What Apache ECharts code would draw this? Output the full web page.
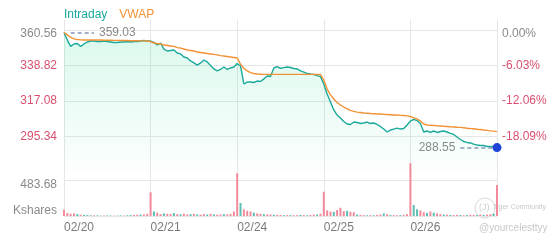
<!DOCTYPE html>
<html><head><meta charset="utf-8">
<script src="https://cdn.jsdelivr.net/npm/echarts@6/dist/echarts.min.js"></script>
<style>html,body{margin:0;padding:0;background:#fff}#c{width:560px;height:240px}</style>
</head><body><div id="c"></div>
<script>
// ---------- data ----------
const days = ['02/20', '02/21', '02/24', '02/25', '02/26'];
const prevClose = 360.56;
const openPrice = 359.03;
const lastPrice = 288.55;
const priceTickStep = 21.74;     // 360.56, 338.82, 317.08, 295.34
const volumeTickStep = 483.68;   // Kshares

const intradayDay1 = [359.03, 354.4, 350.5, 352.0, 352.3, 350.5, 352.0, 353.2, 353.8, 353.8, 353.5, 353.5, 353.8, 353.5, 353.2, 352.9, 352.9, 353.2, 353.2, 353.5, 353.2, 353.5, 353.5, 353.8, 354.1, 353.8];
const intradayDay2 = [353.8, 352.9, 351.4, 352.6, 348.9, 347.7, 348.0, 348.3, 346.5, 345.9, 344.0, 343.4, 341.6, 340.4, 339.1, 340.4, 342.2, 341.0, 338.8, 336.7, 335.5, 336.4, 337.9, 336.4, 337.3, 337.9];
const intradayDay3 = [340.0, 338.5, 327.5, 328.7, 328.7, 328.4, 329.3, 329.0, 330.6, 332.4, 332.1, 337.3, 338.1, 337.1, 337.5, 337.9, 337.6, 337.0, 336.7, 335.5, 334.8, 334.0, 333.6, 333.3, 332.6, 332.0];
const intradayDay4 = [327.5, 321.4, 316.5, 311.6, 308.5, 306.7, 304.5, 303.0, 302.7, 304.2, 303.9, 303.3, 303.6, 304.2, 303.3, 303.6, 302.7, 301.5, 299.9, 298.1, 299.3, 299.9, 300.5, 299.9, 300.2, 302.4];
const intradayDay5 = [304.8, 305.8, 305.1, 303.3, 298.1, 298.7, 297.8, 298.7, 297.8, 298.4, 298.7, 298.1, 297.3, 296.6, 295.0, 293.5, 292.3, 291.7, 291.4, 290.7, 290.1, 289.8, 289.8, 289.2, 289.2, 289.2, 288.55];

const vwapDay1 = [359.0, 357.6, 356.0, 355.1, 354.7, 354.5, 354.4, 354.4, 354.4, 354.4, 354.4, 354.4, 354.3, 354.3, 354.3, 354.2, 354.2, 354.1, 354.1, 354.1, 354.0, 354.0, 354.0, 353.9, 353.9, 353.8];
const vwapDay2 = [353.5, 352.6, 352.3, 352.0, 351.4, 351.1, 350.8, 350.5, 349.8, 349.5, 348.9, 348.3, 348.0, 347.7, 347.1, 346.8, 346.5, 346.2, 345.9, 345.6, 345.3, 344.9, 344.6, 344.3, 344.0, 343.7];
const vwapDay3 = [343.4, 339.7, 337.0, 335.5, 334.5, 333.9, 333.6, 333.5, 333.4, 333.4, 333.4, 333.4, 333.4, 333.4, 333.4, 333.4, 333.4, 333.4, 333.4, 333.4, 333.4, 333.4, 333.4, 333.4, 333.3, 333.3];
const vwapDay4 = [329.9, 324.4, 320.8, 318.3, 316.2, 314.6, 313.4, 312.2, 311.3, 310.7, 310.3, 310.0, 309.7, 309.6, 309.4, 309.3, 309.1, 309.1, 308.9, 308.8, 308.7, 308.5, 308.5, 308.3, 308.2, 308.0];
const vwapDay5 = [307.6, 306.7, 306.1, 304.8, 303.0, 302.4, 302.2, 302.1, 301.9, 301.8, 301.6, 301.5, 301.3, 301.2, 301.0, 300.9, 300.7, 300.4, 300.2, 300.1, 299.8, 299.6, 299.3, 299.1, 298.8, 298.6, 298.3];

const volumeDay1 = [85, 40, 30, 35, 25, 18, 15, 12, 10, 8, 8, 6, 6, 8, 6, 5, 6, 8, 7, 10, 12, 15, 18, 20, 22, 30];
const volumeDay2 = [318, 60, 45, 25, 35, 30, 28, 40, 25, 22, 30, 20, 25, 28, 22, 18, 25, 20, 30, 22, 18, 20, 25, 22, 28, 60];
const volumeDay3 = [574, 175, 90, 70, 60, 45, 35, 30, 25, 22, 20, 18, 15, 15, 12, 14, 12, 10, 12, 15, 12, 10, 14, 18, 20, 30];
const volumeDay4 = [326, 75, 60, 55, 80, 110, 65, 70, 55, 50, 20, 15, 12, 10, 12, 10, 15, 20, 35, 25, 15, 12, 10, 12, 15, 25];
const volumeDay5 = [708, 148, 90, 75, 50, 40, 60, 45, 35, 25, 20, 18, 15, 12, 15, 12, 10, 12, 18, 15, 12, 20, 15, 18, 22, 30, 416];
// 1 = buy-side (red), 0 = sell-side (teal)
const volumeSideDay1 = [1,1,1,1,0,1,0,0,0,1,0,0,1,0,0,1,0,0,1,0,0,1,1,0,1,1];
const volumeSideDay2 = [1,0,1,1,0,1,1,0,1,0,1,1,0,1,0,1,1,0,1,0,1,1,0,1,1,1];
const volumeSideDay3 = [1,0,1,1,1,0,1,1,0,1,1,0,1,1,0,1,0,1,1,0,1,0,1,1,0,1];
const volumeSideDay4 = [1,1,1,0,1,1,1,0,1,1,0,1,1,0,1,0,1,1,0,1,0,1,1,0,1,1];
const volumeSideDay5 = [1,0,0,1,1,0,1,0,1,1,0,1,0,1,1,0,1,0,1,1,0,1,0,1,1,0,1];

// ---------- build ----------
const intraday = [].concat(intradayDay1, intradayDay2, intradayDay3, intradayDay4, intradayDay5);
const vwap = [].concat(vwapDay1, vwapDay2, vwapDay3, vwapDay4, vwapDay5);
const volume = [].concat(volumeDay1, volumeDay2, volumeDay3, volumeDay4, volumeDay5);
const volumeSide = [].concat(volumeSideDay1, volumeSideDay2, volumeSideDay3, volumeSideDay4, volumeSideDay5);
const slotsPerDay = intradayDay1.length;
const categories = [];
days.forEach((d) => { for (let j = 0; j < slotsPerDay; j++) categories.push(d + '#' + j); });
categories.push(days[days.length - 1] + '#close');

const rel = (p) => +(p - prevClose).toFixed(4);
const intradayRel = intraday.map(rel);
const vwapRel = vwap.map(rel);
const lastIdx = categories.length - 1;

const TEAL = '#1aa99b', ORANGE = '#f39234', RED_LBL = '#d9506e', GRAY = '#8a8a8a';
const GRID_LINE = '#e6e6e6';
const FONT = 'Liberation Sans, Arial, sans-serif';

const isDayStart = (i) => i % slotsPerDay === 0;
const priceTick = (v) => {
  const k = Math.round(v / priceTickStep);
  if (Math.abs(v - k * priceTickStep) > 0.01 || k < -3 || k > 0) return null;
  return k;
};

const chart = echarts.init(document.getElementById('c'), null, { renderer: 'canvas' });
chart.setOption({
  animation: false,
  textStyle: { fontFamily: FONT },
  legend: {
    left: 54, top: 3, icon: 'none', itemWidth: 0, itemGap: 7, selectedMode: false,
    textStyle: { fontSize: 12, fontFamily: FONT },
    data: [
      { name: 'Intraday', textStyle: { color: TEAL } },
      { name: 'VWAP', textStyle: { color: ORANGE } }
    ]
  },
  grid: [
    { left: 64, right: 63, top: 20, height: 152 },
    { left: 64, right: 63, top: 172, height: 44 }
  ],
  xAxis: [
    {
      gridIndex: 0, type: 'category', data: categories, boundaryGap: false,
      axisLine: { show: false }, axisTick: { show: false }, axisLabel: { show: false },
      splitLine: { show: true, interval: (i) => isDayStart(i), lineStyle: { color: GRID_LINE, width: 1 } }
    },
    {
      gridIndex: 1, type: 'category', data: categories, boundaryGap: false,
      axisLine: { show: false }, axisTick: { show: false },
      axisLabel: {
        show: true, interval: (i) => isDayStart(i) && i < lastIdx, align: 'left', margin: 6,
        color: '#7a7a7a', fontSize: 12, fontFamily: FONT,
        formatter: (v) => String(v).split('#')[0]
      },
      splitLine: { show: true, interval: (i) => isDayStart(i), lineStyle: { color: GRID_LINE, width: 1 } }
    }
  ],
  yAxis: [
    {
      gridIndex: 0, type: 'value', position: 'left',
      min: -4 * priceTickStep, max: priceTickStep * 10 / 35.5, interval: priceTickStep,
      axisLine: { show: false }, axisTick: { show: false },
      splitLine: { show: true, showMinLine: false, showMaxLine: false, lineStyle: { color: GRID_LINE } },
      axisLabel: {
        margin: 7, fontSize: 12, fontFamily: FONT,
        color: (v) => (parseFloat(v) < -0.01 ? RED_LBL : GRAY),
        formatter: (v) => {
          const k = priceTick(v);
          if (k === null) return '';
          const s = (prevClose + k * priceTickStep).toFixed(2);
          return k === 0 ? '{t|' + s + '}' : s;
        },
        rich: { t: { color: GRAY, fontSize: 12, fontFamily: FONT, padding: [7, 0, 0, 0] } }
      }
    },
    {
      gridIndex: 0, type: 'value', position: 'right',
      min: -4 * priceTickStep, max: priceTickStep * 10 / 35.5, interval: priceTickStep,
      axisLine: { show: false }, axisTick: { show: false }, splitLine: { show: false },
      axisLabel: {
        margin: 5, fontSize: 12, fontFamily: FONT,
        color: (v) => (parseFloat(v) < -0.01 ? RED_LBL : GRAY),
        formatter: (v) => {
          const k = priceTick(v);
          if (k === null) return '';
          const s = (k * priceTickStep / prevClose * 100).toFixed(2) + '%';
          return k === 0 ? '{t|0.00%}' : s;
        },
        rich: { t: { color: GRAY, fontSize: 12, fontFamily: FONT, padding: [7, 0, 0, 0] } }
      }
    },
    {
      gridIndex: 1, type: 'value', position: 'left',
      min: 0, max: volumeTickStep * 44 / 36, interval: volumeTickStep,
      axisLine: { show: false }, axisTick: { show: false },
      splitLine: { show: true, showMaxLine: false, lineStyle: { color: GRID_LINE } },
      axisLabel: {
        margin: 7, fontSize: 12, fontFamily: FONT, color: GRAY,
        formatter: (v) => {
          const k = Math.round(v / volumeTickStep);
          if (Math.abs(v - k * volumeTickStep) > 0.01) return '';
          return k === 0 ? '{b|Kshares}' : '{t|' + volumeTickStep.toFixed(2) + '}';
        },
        rich: {
          t: { color: GRAY, fontSize: 12, fontFamily: FONT, padding: [10, 0, 0, 0] },
          b: { color: GRAY, fontSize: 12, fontFamily: FONT, padding: [0, 0, 10, 0] }
        }
      }
    }
  ],
  series: [
    {
      name: 'Intraday', type: 'line', xAxisIndex: 0, yAxisIndex: 0, data: intradayRel,
      showSymbol: false, lineStyle: { color: TEAL, width: 1.4 }, itemStyle: { color: TEAL },
      areaStyle: {
        origin: 'start',
        color: new echarts.graphic.LinearGradient(0, 0, 0, 1, [
          { offset: 0, color: 'rgba(40, 215, 145, 0.24)' },
          { offset: 1, color: 'rgba(40, 215, 145, 0.02)' }
        ])
      },
      markLine: {
        silent: true, symbol: 'none', animation: false,
        lineStyle: { type: [4, 3], color: '#8696b8', width: 1.5 },
        label: { show: true, color: '#8a8a8a', fontSize: 12, fontFamily: FONT, distance: 5 },
        data: [
          [
            { coord: [categories[2], rel(openPrice)], label: { position: 'end', formatter: openPrice.toFixed(2) } },
            { coord: [categories[9], rel(openPrice)] }
          ],
          [
            { coord: [categories[119], rel(lastPrice)], label: { position: 'start', formatter: lastPrice.toFixed(2) } },
            { coord: [categories[lastIdx - 1], rel(lastPrice)] }
          ]
        ]
      },
      markPoint: {
        silent: true, symbol: 'circle', symbolSize: 9, animation: false,
        itemStyle: { color: '#1f43d6' }, label: { show: false },
        data: [{ coord: [categories[lastIdx], rel(lastPrice)] }]
      },
      z: 3
    },
    {
      name: 'VWAP', type: 'line', xAxisIndex: 0, yAxisIndex: 0, data: vwapRel,
      showSymbol: false, lineStyle: { color: ORANGE, width: 1.4 }, itemStyle: { color: ORANGE }, z: 4
    },
    {
      name: 'Volume', type: 'bar', xAxisIndex: 1, yAxisIndex: 2, data: volume,
      barWidth: 2, clip: false,
      itemStyle: { color: (p) => (volumeSide[p.dataIndex] ? '#f28a9c' : '#5bc0b4') }
    }
  ],
  graphic: [
    { type: 'circle', shape: { cx: 485, cy: 208, r: 10 }, style: { fill: 'none', stroke: '#d8d8d8', lineWidth: 1 }, silent: true },
    { type: 'text', left: 479, top: 203, style: { text: '(J)', fill: '#cfcfcf', fontSize: 9, fontFamily: FONT }, silent: true },
    { type: 'text', left: 493, top: 204, style: { text: 'Tiger Community', fill: '#c8c8c8', fontSize: 7, fontFamily: FONT }, silent: true },
    { type: 'text', left: 479, top: 223, style: { text: '@yourcelesttyy', fill: '#c8c8c8', fontSize: 10, fontFamily: FONT }, silent: true }
  ]
});
</script>
</body></html>
